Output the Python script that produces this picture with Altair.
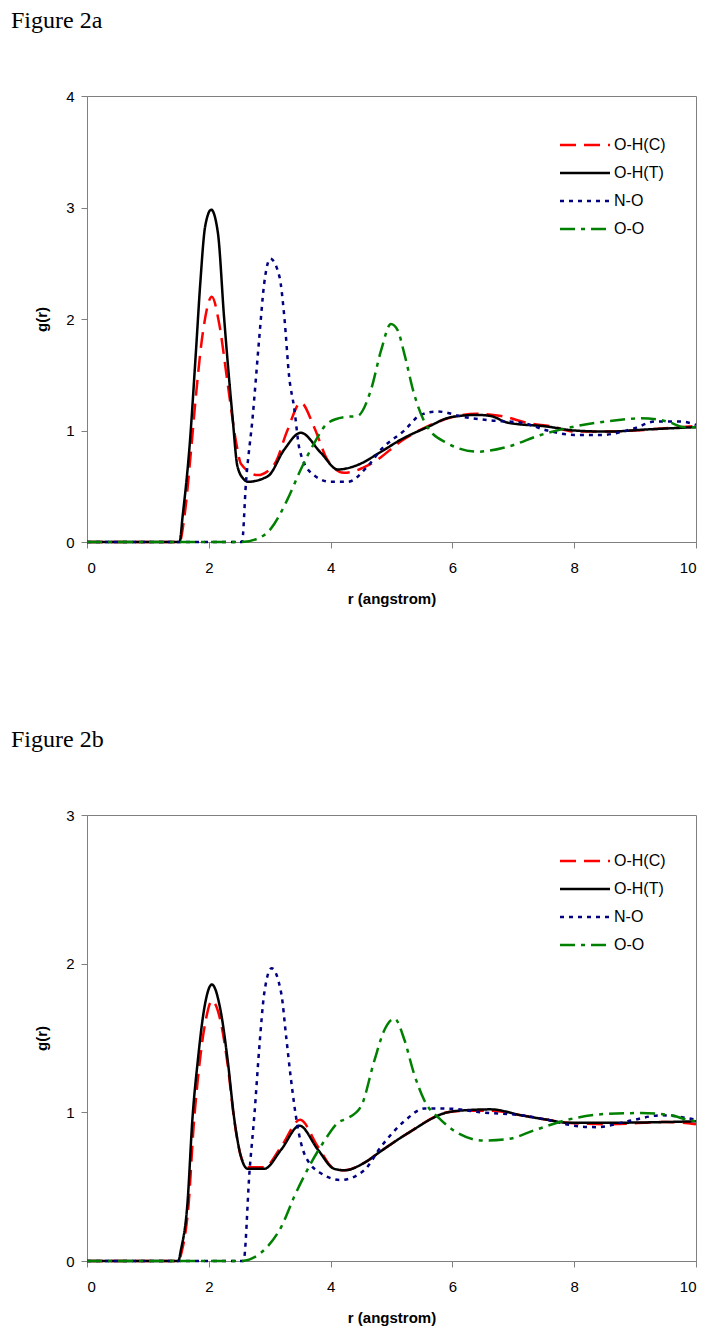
import altair as alt
import pandas as pd

SERIES = ["O-H(C)", "O-H(T)", "N-O", "O-O"]
COLORS = ["#FF0000", "#000000", "#000080", "#008000"]
DASHES = [[16, 8], [1, 0], [4, 5], [15, 6, 4, 6]]

# ---------------- Figure 2a ----------------
a_ohc_r = [0, 1.52, 1.6, 1.71, 1.79, 1.9, 2.05, 2.17, 2.31, 2.45, 2.53, 2.8, 3.08, 3.29, 3.51, 3.73, 3.95, 4.22, 4.66, 5.2, 5.6, 6.0, 6.4, 6.8, 7.3, 7.6, 8.0, 8.5, 9.0, 9.5, 10.0]
a_ohc_g = [0, 0, 0.23, 0.83, 1.32, 1.87, 2.2, 1.96, 1.42, 0.89, 0.70, 0.60, 0.70, 1.0, 1.25, 1.03, 0.735, 0.62, 0.70, 0.92, 1.04, 1.12, 1.15, 1.13, 1.06, 1.04, 0.99, 0.99, 1.0, 1.02, 1.04]

a_oht_r = [0, 1.52, 1.57, 1.68, 1.79, 1.86, 1.94, 2.04, 2.15, 2.25, 2.39, 2.47, 2.58, 2.64, 2.97, 3.24, 3.51, 3.84, 4.12, 4.44, 4.83, 5.16, 5.59, 5.98, 6.41, 6.63, 6.91, 7.56, 8.0, 8.55, 9.21, 10.0]
a_oht_g = [0, 0, 0.23, 0.83, 1.72, 2.32, 2.83, 2.98, 2.77, 2.02, 1.12, 0.68, 0.56, 0.54, 0.59, 0.83, 0.98, 0.80, 0.65, 0.69, 0.81, 0.92, 1.03, 1.12, 1.14, 1.13, 1.07, 1.035, 1.0, 0.99, 1.01, 1.03]

a_no_r = [0, 2.545, 2.61, 2.72, 2.83, 2.91, 3.01, 3.16, 3.24, 3.32, 3.40, 3.49, 3.68, 4.0, 4.28, 4.61, 4.83, 5.21, 5.48, 5.76, 6.2, 6.63, 7.13, 7.56, 8.0, 8.44, 8.99, 9.32, 9.75, 10.0]
a_no_g = [0, 0, 0.53, 1.12, 1.84, 2.32, 2.54, 2.38, 2.02, 1.48, 1.21, 0.83, 0.62, 0.54, 0.54, 0.68, 0.83, 1.0, 1.14, 1.17, 1.12, 1.09, 1.07, 1.0, 0.96, 0.96, 1.02, 1.08, 1.08, 1.05]

a_oo_r = [0, 2.53, 2.8, 3.02, 3.29, 3.51, 3.73, 3.95, 4.22, 4.44, 4.66, 4.83, 4.99, 5.1, 5.21, 5.37, 5.59, 5.92, 6.41, 6.91, 7.45, 8.0, 8.66, 9.1, 9.53, 9.81, 10.0]
a_oo_g = [0, 0, 0.03, 0.12, 0.38, 0.65, 0.885, 1.065, 1.12, 1.13, 1.36, 1.72, 1.955, 1.9, 1.69, 1.33, 1.03, 0.885, 0.81, 0.855, 0.96, 1.035, 1.09, 1.11, 1.08, 1.03, 1.03]

# ---------------- Figure 2b ----------------
b_ohc_r = [0, 1.5, 1.56, 1.67, 1.75, 1.84, 1.95, 2.05, 2.2, 2.31, 2.42, 2.53, 2.64, 2.91, 3.19, 3.5, 3.79, 4.06, 4.23, 4.55, 4.83, 5.27, 5.92, 6.25, 6.63, 7.13, 7.56, 7.89, 8.55, 9.53, 10.0]
b_ohc_g = [0, 0, 0.07, 0.39, 0.9, 1.3, 1.62, 1.75, 1.6, 1.32, 0.94, 0.70, 0.63, 0.63, 0.77, 0.95, 0.77, 0.62, 0.61, 0.66, 0.74, 0.86, 1.0, 1.01, 1.01, 0.98, 0.95, 0.93, 0.92, 0.935, 0.92]

b_oht_r = [0, 1.5, 1.54, 1.65, 1.73, 1.82, 1.93, 2.05, 2.2, 2.31, 2.42, 2.53, 2.64, 2.91, 3.19, 3.49, 3.79, 4.06, 4.23, 4.55, 4.83, 5.27, 5.92, 6.25, 6.63, 7.13, 7.56, 7.89, 8.55, 9.53, 10.0]
b_oht_g = [0, 0, 0.07, 0.39, 0.95, 1.35, 1.71, 1.86, 1.67, 1.35, 0.95, 0.70, 0.62, 0.62, 0.75, 0.91, 0.75, 0.62, 0.61, 0.66, 0.74, 0.86, 1.0, 1.015, 1.02, 0.98, 0.95, 0.93, 0.93, 0.935, 0.94]

b_no_r = [0, 2.57, 2.67, 2.75, 2.83, 2.91, 3.03, 3.19, 3.27, 3.35, 3.46, 3.57, 3.84, 4.17, 4.55, 4.83, 5.21, 5.54, 5.92, 6.47, 7.13, 7.56, 8.0, 8.38, 8.88, 9.43, 10.0]
b_no_g = [0, 0, 0.61, 0.99, 1.44, 1.8, 1.97, 1.8, 1.51, 1.22, 0.90, 0.72, 0.59, 0.545, 0.61, 0.77, 0.94, 1.025, 1.025, 1.0, 0.98, 0.95, 0.91, 0.90, 0.94, 0.98, 0.95]

b_oo_r = [0, 2.53, 2.97, 3.19, 3.4, 3.68, 3.9, 4.12, 4.28, 4.5, 4.72, 4.88, 5.05, 5.21, 5.37, 5.54, 5.81, 6.09, 6.52, 6.91, 7.35, 7.89, 8.55, 9.1, 9.59, 9.86, 10.0]
b_oo_g = [0, 0, 0.10, 0.23, 0.43, 0.66, 0.81, 0.93, 0.96, 1.04, 1.35, 1.55, 1.63, 1.49, 1.26, 1.08, 0.95, 0.86, 0.81, 0.82, 0.88, 0.95, 0.99, 0.995, 0.98, 0.95, 0.94]

X_TICKS = [0, 2, 4, 6, 8, 10]


def frame(pairs):
    rows = []
    for name, rs, gs in pairs:
        for r, g in zip(rs, gs):
            rows.append({"r": r, "g": g, "series": name})
    return pd.DataFrame(rows)


def legend(ly):
    return alt.Legend(title=None, orient="none", legendX=484, legendY=ly,
                      symbolType="M-2,0H2", symbolSize=625,
                      symbolStrokeWidth=2.5, symbolFillColor="transparent",
                      labelFontSize=16,
                      labelFont="Liberation Sans", labelColor="black",
                      rowPadding=6, labelOffset=15, padding=0)


def panel(df, ymax, title, ticks, ly):
    return alt.Chart(df).mark_line(strokeWidth=2.5, interpolate="monotone").encode(
        x=alt.X("r:Q", title="r (angstrom)",
                scale=alt.Scale(domain=[0, 10], nice=False),
                axis=alt.Axis(values=X_TICKS, labelPadding=12, titlePadding=16)),
        y=alt.Y("g:Q", title="g(r)",
                scale=alt.Scale(domain=[0, ymax], nice=False),
                axis=alt.Axis(values=ticks, labelPadding=7, titlePadding=16)),
        color=alt.Color("series:N", scale=alt.Scale(domain=SERIES, range=COLORS),
                        legend=legend(ly)),
        strokeDash=alt.StrokeDash("series:N", scale=alt.Scale(domain=SERIES, range=DASHES),
                                  legend=legend(ly)),
    ).properties(
        width=609, height=446,
        title=alt.TitleParams(title, anchor="start", dx=-76, offset=37, baseline="alphabetic",
                              font="Liberation Serif", fontSize=24, fontWeight="normal",
                              color="black", frame="group"),
    )


df_a = frame([("O-H(C)", a_ohc_r, a_ohc_g), ("O-H(T)", a_oht_r, a_oht_g),
              ("N-O", a_no_r, a_no_g), ("O-O", a_oo_r, a_oo_g)])
df_b = frame([("O-H(C)", b_ohc_r, b_ohc_g), ("O-H(T)", b_oht_r, b_oht_g),
              ("N-O", b_no_r, b_no_g), ("O-O", b_oo_r, b_oo_g)])

chart_a = panel(df_a, 4, "Figure 2a", [0, 1, 2, 3, 4], 35)
chart_b = panel(df_b, 3, "Figure 2b", [0, 1, 2, 3], 32)

chart = alt.vconcat(chart_a, chart_b, spacing=120).resolve_scale(
    y="independent", color="independent", strokeDash="independent"
).configure_view(stroke="#808080", strokeWidth=1).configure_axis(
    grid=False, domainColor="#808080", tickColor="#808080", tickSize=6,
    labelFont="Liberation Sans", labelFontSize=15, labelColor="black",
    titleFont="Liberation Sans", titleFontSize=15, titleFontWeight="bold", titleColor="black",
).properties(padding={"left": 2, "top": 0, "right": 0, "bottom": 0})

chart.save("out.html", embed_options={"renderer": "svg", "actions": False})
